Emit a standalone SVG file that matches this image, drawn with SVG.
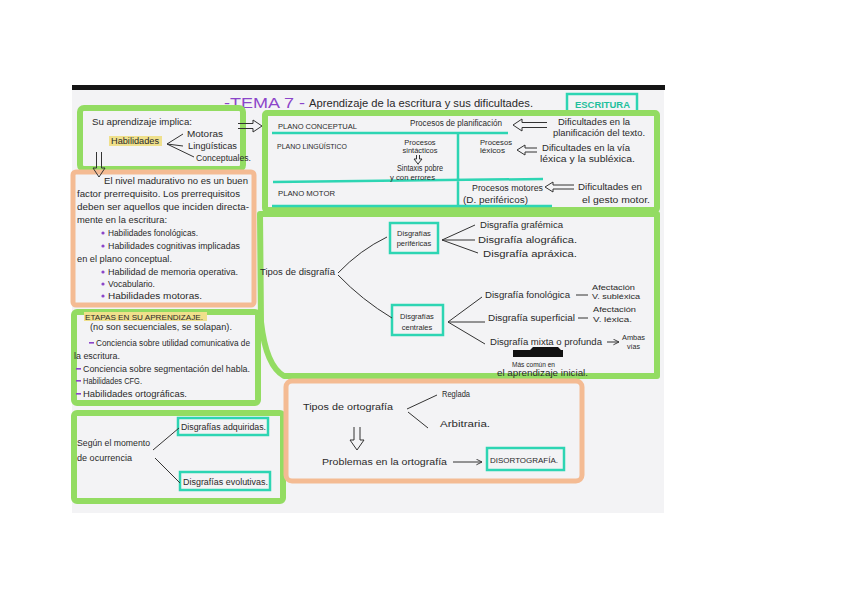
<svg xmlns="http://www.w3.org/2000/svg" width="848" height="599" viewBox="0 0 848 599">
<style>
.t{font-family:"Liberation Sans",Arial,sans-serif;font-size:8.5px;fill:#2a2a2a}
.s{font-size:7.5px}
.c{text-anchor:middle}
.g{fill:none;stroke:#93dc62;stroke-width:6;stroke-linejoin:round}
.o{fill:none;stroke:#f4bb93;stroke-width:5;stroke-linejoin:round}
.tl{fill:none;stroke:#2dd5b3;stroke-width:2.5}
.ln{fill:none;stroke:#333;stroke-width:1}
.pu{fill:#8b45c9}
.hl{fill:#efe08c}
</style>
<defs>
<marker id="ah" viewBox="0 0 10 10" refX="9" refY="5" markerWidth="7" markerHeight="7" orient="auto">
<path d="M1 1 L9 5 L1 9" fill="none" stroke="#333" stroke-width="1.3"/>
</marker>
</defs>
<rect width="848" height="599" fill="#ffffff"/>
<rect x="72" y="89" width="592" height="424" fill="#f3f3f5"/>
<rect x="72" y="85" width="593" height="5" fill="#151515"/>

<g id="title">
<text x="224" y="108" class="t" style="font-size:15px;fill:#8b45c9" textLength="81" lengthAdjust="spacingAndGlyphs">-TEMA 7 -</text>
<text x="309" y="107" class="t" style="font-size:10px" textLength="224" lengthAdjust="spacingAndGlyphs">Aprendizaje de la escritura y sus dificultades.</text>
</g>
<g id="escritura">
<rect x="567" y="94" width="70" height="20" class="tl"/>
<text x="575" y="108" class="t" style="fill:#1fbf9c;font-weight:bold" textLength="55" lengthAdjust="spacingAndGlyphs">ESCRITURA</text>
</g>

<g id="implica">
<rect x="80" y="108" width="163" height="61" rx="4" class="g"/>
<text x="92" y="125" class="t" textLength="100" lengthAdjust="spacingAndGlyphs">Su aprendizaje implica:</text>
<rect x="109" y="136" width="53" height="10" class="hl"/>
<text x="111" y="144" class="t" textLength="48" lengthAdjust="spacingAndGlyphs">Habilidades</text>
<text x="187" y="137" class="t" textLength="36" lengthAdjust="spacingAndGlyphs">Motoras</text>
<text x="188" y="149" class="t" textLength="49" lengthAdjust="spacingAndGlyphs">Lingüísticas</text>
<text x="196" y="161" class="t" textLength="55" lengthAdjust="spacingAndGlyphs">Conceptuales.</text>
</g>

<g id="prerrequisitos">
<rect x="73" y="172" width="181" height="133" rx="3" class="o"/>
<text x="104" y="184" class="t" textLength="144" lengthAdjust="spacingAndGlyphs">El nivel madurativo no es un buen</text>
<text x="77" y="197" class="t" textLength="163" lengthAdjust="spacingAndGlyphs">factor prerrequisito. Los prerrequisitos</text>
<text x="77" y="210" class="t" textLength="172" lengthAdjust="spacingAndGlyphs">deben ser aquellos que inciden directa-</text>
<text x="77" y="223" class="t" textLength="90" lengthAdjust="spacingAndGlyphs">mente en la escritura:</text>
<circle cx="103" cy="233" r="1.6" class="pu"/>
<text x="108" y="236" class="t" textLength="90" lengthAdjust="spacingAndGlyphs">Habilidades fonológicas.</text>
<circle cx="103" cy="246" r="1.6" class="pu"/>
<text x="108" y="249" class="t" textLength="132" lengthAdjust="spacingAndGlyphs">Habilidades cognitivas implicadas</text>
<text x="77" y="262" class="t" textLength="95" lengthAdjust="spacingAndGlyphs">en el plano conceptual.</text>
<circle cx="103" cy="272" r="1.6" class="pu"/>
<text x="108" y="275" class="t" textLength="130" lengthAdjust="spacingAndGlyphs">Habilidad de memoria operativa.</text>
<circle cx="103" cy="284" r="1.6" class="pu"/>
<text x="108" y="287" class="t" textLength="47" lengthAdjust="spacingAndGlyphs">Vocabulario.</text>
<circle cx="103" cy="296" r="1.6" class="pu"/>
<text x="108" y="299" class="t" textLength="94" lengthAdjust="spacingAndGlyphs">Habilidades motoras.</text>
</g>

<g id="etapas">
<rect x="74" y="312" width="184" height="91" rx="3" class="g"/>
<rect x="84" y="312" width="123" height="9" class="hl"/>
<text x="85" y="320" class="t s" textLength="118" lengthAdjust="spacingAndGlyphs">ETAPAS EN SU APRENDIZAJE.</text>
<text x="90" y="330" class="t" textLength="142" lengthAdjust="spacingAndGlyphs">(no son secuenciales, se solapan).</text>
<rect x="89" y="342" width="5" height="1.6" class="pu"/>
<text x="96" y="346" class="t" textLength="154" lengthAdjust="spacingAndGlyphs">Conciencia sobre utilidad comunicativa de</text>
<text x="74" y="359" class="t" textLength="46" lengthAdjust="spacingAndGlyphs">la escritura.</text>
<rect x="76" y="368" width="5" height="1.6" class="pu"/>
<text x="83" y="372" class="t" textLength="167" lengthAdjust="spacingAndGlyphs">Conciencia sobre segmentación del habla.</text>
<rect x="76" y="380" width="5" height="1.6" class="pu"/>
<text x="83" y="384" class="t" textLength="59" lengthAdjust="spacingAndGlyphs">Habilidades CFG.</text>
<rect x="76" y="393" width="5" height="1.6" class="pu"/>
<text x="83" y="397" class="t" textLength="104" lengthAdjust="spacingAndGlyphs">Habilidades ortográficas.</text>
</g>

<g id="momento">
<rect x="74" y="413" width="209" height="88" rx="3" class="g"/>
<text x="77" y="446" class="t" textLength="73" lengthAdjust="spacingAndGlyphs">Según el momento</text>
<text x="77" y="461" class="t" textLength="55" lengthAdjust="spacingAndGlyphs">de ocurrencia</text>
</g>
<g id="adquiridas">
<rect x="178" y="418" width="90" height="17" class="tl"/>
<text x="181" y="430" class="t" textLength="85" lengthAdjust="spacingAndGlyphs">Disgrafías adquiridas.</text>
</g>
<g id="evolutivas">
<rect x="180" y="472" width="90" height="18" class="tl"/>
<text x="183" y="485" class="t" textLength="85" lengthAdjust="spacingAndGlyphs">Disgrafías evolutivas.</text>
</g>

<g id="planos">
<rect x="265" y="113" width="392" height="97" rx="2" class="g"/>
<path d="M272 133 H508 M273 182 L543 179 M272 206 H552 M458 133 V206" class="tl"/>
<text x="278" y="129" class="t s" textLength="79" lengthAdjust="spacingAndGlyphs">PLANO CONCEPTUAL</text>
<text x="410" y="126" class="t" textLength="92" lengthAdjust="spacingAndGlyphs">Procesos de planificación</text>
<text x="558" y="125" class="t" textLength="72" lengthAdjust="spacingAndGlyphs">Dificultades en la</text>
<text x="553" y="136" class="t" textLength="92" lengthAdjust="spacingAndGlyphs">planificación del texto.</text>
<text x="277" y="149" class="t s" textLength="70" lengthAdjust="spacingAndGlyphs">PLANO LINGÜÍSTICO</text>
<text x="420" y="145" class="t s c">Procesos</text>
<text x="420" y="153" class="t s c">sintácticos</text>
<text x="397" y="171" class="t" textLength="46" lengthAdjust="spacingAndGlyphs">Sintaxis pobre</text>
<text x="390" y="180" class="t s" textLength="45" lengthAdjust="spacingAndGlyphs">y con errores</text>
<text x="480" y="145" class="t s" textLength="32" lengthAdjust="spacingAndGlyphs">Procesos</text>
<text x="480" y="153" class="t s" textLength="25" lengthAdjust="spacingAndGlyphs">léxicos</text>
<text x="542" y="151" class="t" textLength="88" lengthAdjust="spacingAndGlyphs">Dificultades en la vía</text>
<text x="540" y="162" class="t" textLength="95" lengthAdjust="spacingAndGlyphs">léxica y la subléxica.</text>
<text x="278" y="196" class="t s" textLength="57" lengthAdjust="spacingAndGlyphs">PLANO MOTOR</text>
<text x="472" y="191" class="t" textLength="71" lengthAdjust="spacingAndGlyphs">Procesos motores</text>
<text x="463" y="203" class="t" textLength="65" lengthAdjust="spacingAndGlyphs">(D. periféricos)</text>
<text x="578" y="190" class="t" textLength="64" lengthAdjust="spacingAndGlyphs">Dificultades en</text>
<text x="582" y="203" class="t" textLength="68" lengthAdjust="spacingAndGlyphs">el gesto motor.</text>
</g>

<g id="tipos-disgrafia">
<path d="M260 214 H657 V376 H284 Q266 366 261 322 Z" class="g"/>
<text x="260" y="275" class="t" textLength="75" lengthAdjust="spacingAndGlyphs">Tipos de disgrafía</text>
</g>
<g id="perifericas">
<rect x="390" y="223" width="48" height="30" class="tl"/>
<text x="414" y="236" class="t s c">Disgrafías</text>
<text x="414" y="246" class="t s c">periféricas</text>
<text x="480" y="228" class="t" textLength="83" lengthAdjust="spacingAndGlyphs">Disgrafía grafémica</text>
<text x="478" y="243" class="t" textLength="99" lengthAdjust="spacingAndGlyphs">Disgrafía alográfica.</text>
<text x="483" y="257" class="t" textLength="94" lengthAdjust="spacingAndGlyphs">Disgrafía apráxica.</text>
</g>
<g id="centrales">
<rect x="392" y="305" width="51" height="30" class="tl"/>
<text x="417" y="319" class="t s c">Disgrafías</text>
<text x="417" y="330" class="t s c">centrales</text>
<text x="485" y="298" class="t" textLength="85" lengthAdjust="spacingAndGlyphs">Disgrafía fonológica</text>
<text x="592" y="290" class="t s" textLength="43" lengthAdjust="spacingAndGlyphs">Afectación</text>
<text x="592" y="299" class="t s" textLength="48" lengthAdjust="spacingAndGlyphs">V. subléxica</text>
<text x="488" y="321" class="t" textLength="87" lengthAdjust="spacingAndGlyphs">Disgrafía superficial</text>
<text x="593" y="312" class="t s" textLength="43" lengthAdjust="spacingAndGlyphs">Afectación</text>
<text x="593" y="322" class="t s" textLength="39" lengthAdjust="spacingAndGlyphs">V. léxica.</text>
<text x="490" y="345" class="t" textLength="112" lengthAdjust="spacingAndGlyphs">Disgrafía mixta o profunda</text>
<text x="622" y="340" class="t s" textLength="23" lengthAdjust="spacingAndGlyphs">Ambas</text>
<text x="627" y="349" class="t s" textLength="13" lengthAdjust="spacingAndGlyphs">vías</text>
<path d="M513 350 H530 L533 347 H558 L561 350 H563 V357 H513 Z" fill="#111"/>
<text x="512" y="367" class="t s" textLength="43" lengthAdjust="spacingAndGlyphs">Más común en</text>
<text x="497" y="376" class="t" textLength="91" lengthAdjust="spacingAndGlyphs">el aprendizaje inicial.</text>
</g>

<g id="ortografia">
<rect x="286" y="381" width="296" height="100" rx="6" class="o"/>
<text x="303" y="410" class="t" textLength="90" lengthAdjust="spacingAndGlyphs">Tipos de ortografía</text>
<text x="442" y="397" class="t" textLength="28" lengthAdjust="spacingAndGlyphs">Reglada</text>
<text x="440" y="427" class="t" textLength="50" lengthAdjust="spacingAndGlyphs">Arbitraria.</text>
<text x="322" y="465" class="t" textLength="125" lengthAdjust="spacingAndGlyphs">Problemas en la ortografía</text>
</g>
<g id="disortografia">
<rect x="487" y="448" width="77" height="22" class="tl"/>
<text x="490" y="463" class="t s" textLength="68" lengthAdjust="spacingAndGlyphs">DISORTOGRAFÍA.</text>
</g>

<g id="connectors">
<path d="M167 144 L183 134 M167 144 L183 146 M167 144 L194 157" class="ln"/>
<path d="M262 126 L253 120 L253 123.5 L238 123.5 M262 126 L253 132 L253 128.5 L238 128.5" class="ln"/>
<path d="M99 177 L93 168 L96.5 168 L96.5 152 M99 177 L105 168 L101.5 168 L101.5 152" class="ln"/>
<path d="M513 125 L522 119 L522 122.5 L547 122.5 M513 125 L522 131 L522 127.5 L547 127.5" class="ln"/>
<path d="M418 164 L414 159 L416.5 159 L416.5 155 M418 164 L422 159 L419.5 159 L419.5 155" class="ln"/>
<path d="M517 150 L525 145 L525 148 L537 148 M517 150 L525 155 L525 152 L537 152" class="ln"/>
<path d="M545 187 L553 182 L553 185 L574 185 M545 187 L553 192 L553 189 L574 189" class="ln"/>
<path d="M338 273 Q360 250 387 237 M338 275 Q362 300 392 318" class="ln"/>
<path d="M442 240 L475 225 M442 240 L475 240 M442 240 L478 253" class="ln"/>
<path d="M448 322 L482 297 M448 322 L485 322 M448 322 L485 344" class="ln"/>
<path d="M576 295 H588 M578 318 H588 M607 342 H619" class="ln" marker-end="url(#ah)"/>
<path d="M153 450 L179 428 M155 458 L180 483" class="ln"/>
<path d="M407 409 L437 395 M408 412 L428 428" class="ln"/>
<path d="M357 450 L350 440 L354 440 L354 427 M357 450 L364 440 L360 440 L360 427" class="ln"/>
<path d="M453 462 H482" class="ln" marker-end="url(#ah)"/>
</g>
</svg>
